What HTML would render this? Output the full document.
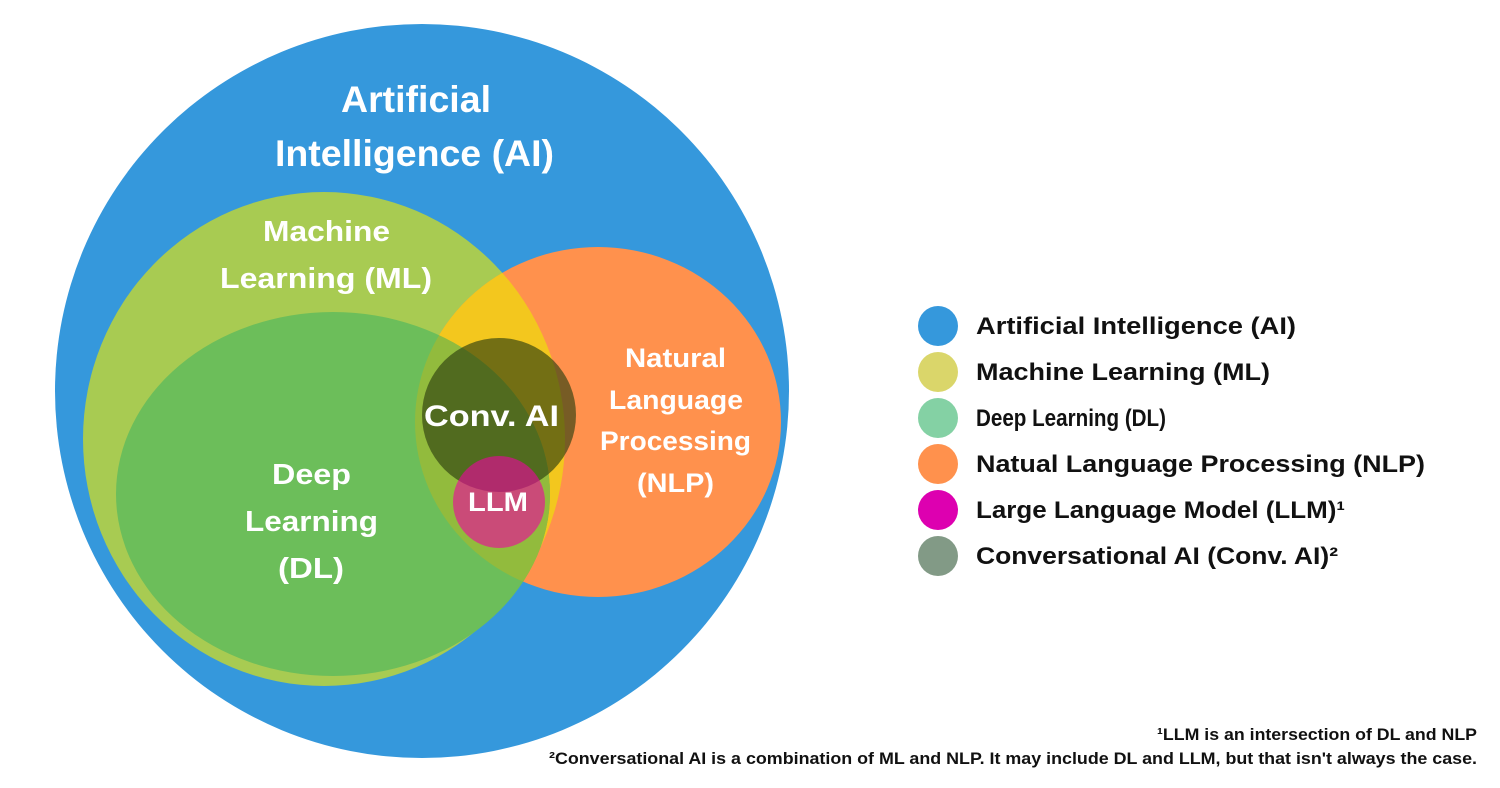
<!DOCTYPE html>
<html><head><meta charset="utf-8"><style>
html,body{margin:0;padding:0;background:#fff;}
svg{display:block;}
text{font-family:"Liberation Sans",sans-serif;font-weight:bold;}
</style></head><body>
<svg width="1500" height="788" viewBox="0 0 1500 788" xmlns="http://www.w3.org/2000/svg">
<defs>
<clipPath id="ml"><ellipse cx="324" cy="439" rx="241" ry="247"/></clipPath>
<clipPath id="nlp"><ellipse cx="598" cy="422" rx="183" ry="175"/></clipPath>
</defs>
<circle cx="422" cy="391" r="367" fill="#3598dc"/>
<ellipse cx="324" cy="439" rx="241" ry="247" fill="#a8cb52"/>
<ellipse cx="598" cy="422" rx="183" ry="175" fill="#ff914d"/>
<g clip-path="url(#ml)"><ellipse cx="598" cy="422" rx="183" ry="175" fill="#f3c71e"/></g>
<ellipse cx="333" cy="494" rx="217" ry="182" fill="#6cbe5a"/>
<g clip-path="url(#nlp)"><ellipse cx="333" cy="494" rx="217" ry="182" fill="#92bb3d"/></g>
<circle cx="499" cy="415" r="77" fill="#2e4010" fill-opacity="0.65"/>
<circle cx="499" cy="502" r="46" fill="#f000a0" fill-opacity="0.6"/>
<g fill="#fff">
<text x="341" y="112" font-size="37" textLength="150" lengthAdjust="spacingAndGlyphs">Artificial</text>
<text x="275" y="166" font-size="37" textLength="279" lengthAdjust="spacingAndGlyphs">Intelligence (AI)</text>
<text x="263" y="241" font-size="29" textLength="127" lengthAdjust="spacingAndGlyphs">Machine</text>
<text x="220" y="288" font-size="29" textLength="212" lengthAdjust="spacingAndGlyphs">Learning (ML)</text>
<text x="272" y="484" font-size="29" textLength="79" lengthAdjust="spacingAndGlyphs">Deep</text>
<text x="245" y="531" font-size="29" textLength="133" lengthAdjust="spacingAndGlyphs">Learning</text>
<text x="278" y="578" font-size="29" textLength="66" lengthAdjust="spacingAndGlyphs">(DL)</text>
<text x="625" y="367" font-size="27" textLength="101" lengthAdjust="spacingAndGlyphs">Natural</text>
<text x="609" y="409" font-size="27" textLength="134" lengthAdjust="spacingAndGlyphs">Language</text>
<text x="600" y="450" font-size="27" textLength="151" lengthAdjust="spacingAndGlyphs">Processing</text>
<text x="637" y="492" font-size="27" textLength="77" lengthAdjust="spacingAndGlyphs">(NLP)</text>
<text x="424" y="426" font-size="30" textLength="135" lengthAdjust="spacingAndGlyphs">Conv. AI</text>
<text x="468" y="511" font-size="27" textLength="60" lengthAdjust="spacingAndGlyphs">LLM</text>
</g>
<circle cx="938" cy="326" r="20" fill="#3598dc"/>
<circle cx="938" cy="372" r="20" fill="#dad66a"/>
<circle cx="938" cy="418" r="20" fill="#84d1a4"/>
<circle cx="938" cy="464" r="20" fill="#ff914d"/>
<circle cx="938" cy="510" r="20" fill="#dd00b0"/>
<circle cx="938" cy="556" r="20" fill="#829a86"/>
<g fill="#111" font-size="24">
<text x="976" y="334" textLength="320" lengthAdjust="spacingAndGlyphs">Artificial Intelligence (AI)</text>
<text x="976" y="380" textLength="294" lengthAdjust="spacingAndGlyphs">Machine Learning (ML)</text>
<text x="976" y="426" textLength="190" lengthAdjust="spacingAndGlyphs">Deep Learning (DL)</text>
<text x="976" y="472" textLength="449" lengthAdjust="spacingAndGlyphs">Natual Language Processing (NLP)</text>
<text x="976" y="518" textLength="369" lengthAdjust="spacingAndGlyphs">Large Language Model (LLM)¹</text>
<text x="976" y="564" textLength="362" lengthAdjust="spacingAndGlyphs">Conversational AI (Conv. AI)²</text>
</g>
<g fill="#111" font-size="16.5">
<text x="1157" y="740" textLength="320" lengthAdjust="spacingAndGlyphs">¹LLM is an intersection of DL and NLP</text>
<text x="549" y="764" textLength="928" lengthAdjust="spacingAndGlyphs">²Conversational AI is a combination of ML and NLP. It may include DL and LLM, but that isn't always the case.</text>
</g>
</svg>
</body></html>
